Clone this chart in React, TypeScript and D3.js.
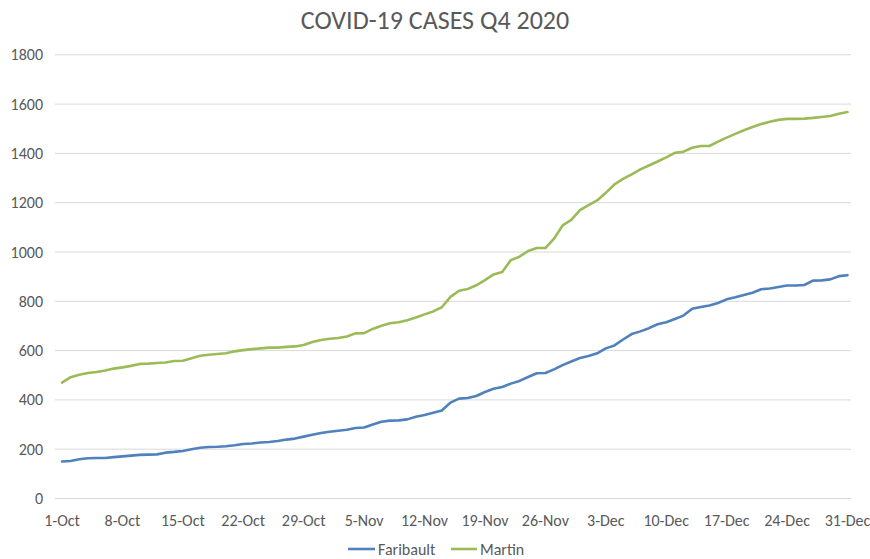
import React from 'react';
import * as d3 from 'd3';

// daily cumulative cases, 1-Oct .. 31-Dec 2020
const faribault = [
  150, 152, 159, 163, 164, 164, 168, 171, 174, 177, 178, 179, 186, 189, 193, 200, 206, 209, 210, 212, 216, 221, 223,
  227, 229, 233, 239, 243, 251, 259, 266, 271, 275, 279, 286, 288, 300, 311, 316, 317, 321, 332, 339, 348, 357, 389,
  405, 408, 416, 432, 445, 452, 466, 477, 493, 508, 509, 524, 541, 556, 570, 578, 589, 609, 621, 645, 667, 678, 691,
  707, 715, 728, 742, 770, 777, 783, 793, 808, 816, 826, 835, 849, 852, 858, 864, 864, 866, 884, 885, 889, 902, 906,
];

const martin = [
  470, 492, 502, 509, 513, 519, 527, 532, 538, 546, 547, 550, 552, 558, 559, 569, 579, 583, 586, 589, 597, 602, 606,
  609, 612, 612, 615, 617, 623, 635, 643, 648, 651, 657, 670, 671, 688, 701, 711, 715, 723, 734, 747, 759, 776, 818,
  843, 850, 865, 886, 909, 919, 967, 981, 1004, 1016, 1016, 1054, 1108, 1130, 1170, 1190, 1209, 1240, 1274, 1297, 1315, 1335, 1351,
  1367, 1384, 1402, 1407, 1423, 1430, 1430, 1448, 1464, 1479, 1494, 1507, 1519, 1528, 1536, 1540, 1540, 1541, 1544, 1548, 1552, 1561, 1568,
];

const tickLabels = [
  '1-Oct', '8-Oct', '15-Oct', '22-Oct', '29-Oct', '5-Nov', '12-Nov',
  '19-Nov', '26-Nov', '3-Dec', '10-Dec', '17-Dec', '24-Dec', '31-Dec',
];

const yTicks = [0, 200, 400, 600, 800, 1000, 1200, 1400, 1600, 1800];

const series = [
  { name: 'Faribault', values: faribault, color: '#4f81bd' },
  { name: 'Martin', values: martin, color: '#9bbb59' },
];

const font = 'Calibri, Carlito, "Open Sans", sans-serif';
const textColor = '#595959';

const App: React.FC = () => {
  const width = 870;
  const height = 559;

  const x = d3.scaleLinear().domain([0, faribault.length - 1]).range([62, 847.5]);
  const y = d3.scaleLinear().domain([0, 1800]).range([498.5, 54.8]);

  const line = d3.line<number>()
    .x((_, i) => x(i))
    .y((d) => y(d));

  return (
    <>
      <style>{'body{margin:0}'}</style>
      <svg width={width} height={height} style={{ display: 'block', background: '#fff' }} fontFamily={font}>
        <text x={435} y={29} textAnchor="middle" fontSize={26} fill={textColor}>
          COVID-19 CASES Q4 2020
        </text>

        {/* gridlines + y labels */}
        {yTicks.map((t) => (
          <g key={t}>
            <line x1={55} x2={851} y1={y(t)} y2={y(t)} stroke="#d9d9d9" strokeWidth={1} />
            <text x={43} y={y(t) + 5.5} textAnchor="end" fontSize={16} fill={textColor}>
              {t}
            </text>
          </g>
        ))}

        {/* x labels */}
        {tickLabels.map((lbl, i) => (
          <text key={lbl} x={x(i * 7)} y={526} textAnchor="middle" fontSize={16} fill={textColor}>
            {lbl}
          </text>
        ))}

        {series.map((s) => (
          <path
            key={s.name}
            d={line(s.values) || ''}
            fill="none"
            stroke={s.color}
            strokeWidth={2.6}
            strokeLinejoin="round"
            strokeLinecap="round"
          />
        ))}

        {/* legend */}
        <g>
          <line x1={348} x2={375} y1={549} y2={549} stroke={series[0].color} strokeWidth={2.6} />
          <text x={378} y={554.5} fontSize={16} fill={textColor}>{series[0].name}</text>
          <line x1={451} x2={477} y1={549} y2={549} stroke={series[1].color} strokeWidth={2.6} />
          <text x={480} y={554.5} fontSize={16} fill={textColor}>{series[1].name}</text>
        </g>
      </svg>
    </>
  );
};

export default App;
